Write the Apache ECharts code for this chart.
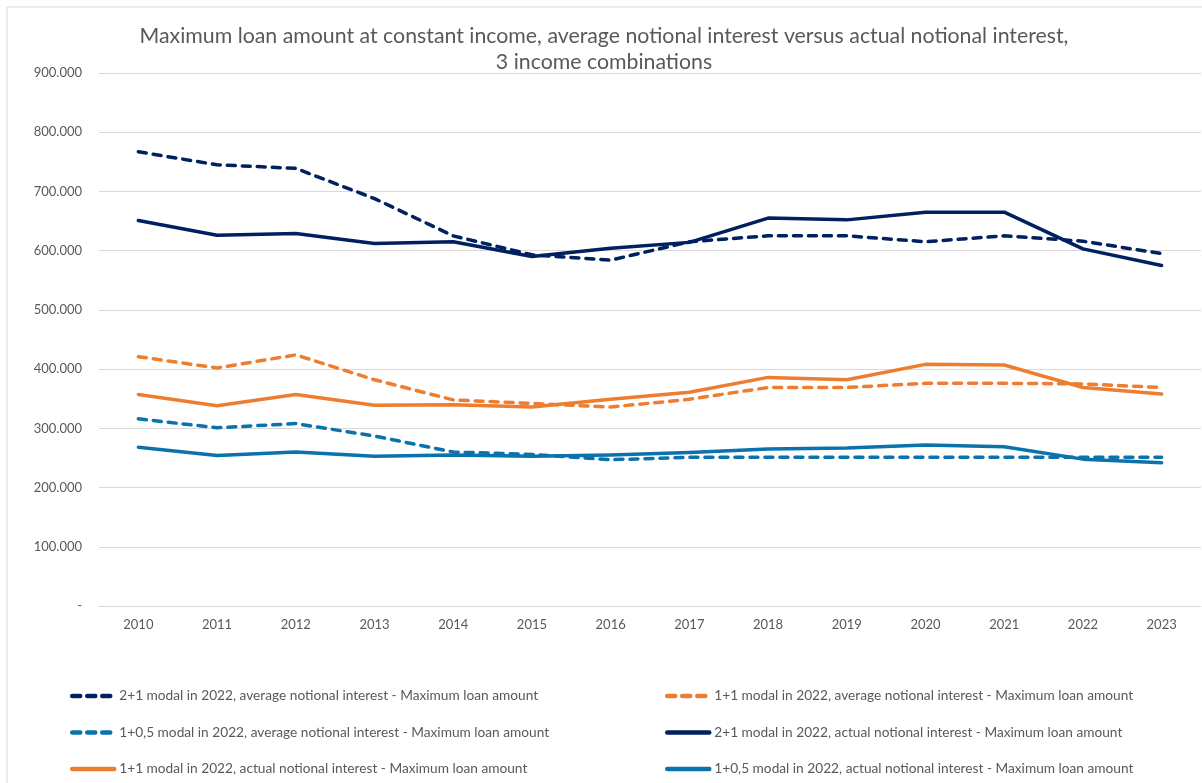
<!DOCTYPE html>
<html>
<head>
<meta charset="utf-8">
<script src="https://cdn.jsdelivr.net/npm/echarts@6/dist/echarts.min.js"></script>
<style>
html,body{margin:0;padding:0;background:#fff;}
#chart{width:1202px;height:783px;}
</style>
</head>
<body>
<div id="chart"></div>
<script>
const years = ['2010','2011','2012','2013','2014','2015','2016','2017','2018','2019','2020','2021','2022','2023'];
const yTicks = [0,100000,200000,300000,400000,500000,600000,700000,800000,900000];

const avg21 = [767000,745000,739000,688000,625000,593000,584000,615000,625000,625000,615000,625000,616000,595000];
const avg11 = [421000,402000,424000,382000,348000,342000,336000,349000,369000,369000,376000,376000,375000,369000];
const avg105 = [316000,301000,308000,287000,260000,256000,247000,251000,251000,251000,251000,251000,251000,251000];
const act21 = [651000,626000,629000,612000,615000,590000,604000,614000,655000,652000,665000,665000,603000,575000];
const act11 = [357000,338000,357000,339000,340000,336000,349000,361000,386000,382000,408000,407000,369000,358000];
const act105 = [268000,254000,260000,253000,255000,253000,255000,259000,265000,267000,272000,269000,248000,242000];

const names = [
  '2+1 modal in 2022, average notional interest - Maximum loan amount',
  '1+1 modal in 2022, average notional interest - Maximum loan amount',
  '1+0,5 modal in 2022, average notional interest - Maximum loan amount',
  '2+1 modal in 2022, actual notional interest - Maximum loan amount',
  '1+1 modal in 2022, actual notional interest - Maximum loan amount',
  '1+0,5 modal in 2022, actual notional interest - Maximum loan amount'
];

const NAVY = '#002060', ORANGE = '#ED7D31', BLUE = '#0A72AC';
const FONT = "Lato, 'Liberation Sans', sans-serif";

function mk(name, data, color, dashed) {
  return {
    name: name, type: 'line', data: data, symbol: 'none', smooth: false,
    lineStyle: { color: color, width: 3.5, type: dashed ? [8, 7] : 'solid', cap: 'round', join: 'round' },
    itemStyle: { color: color },
    emphasis: { disabled: true }
  };
}

function legend(items, left) {
  return {
    data: items, left: left, top: 684, width: 560, height: 130,
    orient: 'vertical', itemWidth: 42, itemHeight: 14, itemGap: 22.5,
    textStyle: { fontFamily: FONT, fontSize: 13.7, color: '#595959' }, selectedMode: false,
    itemStyle: { opacity: 0 },
    lineStyle: { width: 4.5 }
  };
}

const chart = echarts.init(document.getElementById('chart'));
chart.setOption({
  animation: false,
  backgroundColor: '#fff',
  textStyle: { fontFamily: FONT },
  graphic: [{
    type: 'rect', shape: { x: 7, y: 7, width: 1300, height: 900 },
    style: { fill: 'none', stroke: '#d9d9d9', lineWidth: 1 }, silent: true, z: -10
  }],
  title: {
    text: 'Maximum loan amount at constant income, average notional interest versus actual notional interest,\n3 income combinations',
    left: 599, textAlign: 'center', top: 18,
    textStyle: { fontFamily: FONT, fontSize: 21.3, fontWeight: 'normal', color: '#595959', lineHeight: 26 }
  },
  legend: [
    legend([names[0], names[2], names[4]], 65),
    legend([names[1], names[3], names[5]], 660)
  ],
  grid: { left: 99, right: 1, top: 73, bottom: 177, containLabel: false },
  xAxis: {
    type: 'category', data: years, boundaryGap: true,
    axisLine: { show: true, lineStyle: { color: '#d9d9d9', width: 1 } },
    axisTick: { show: false },
    axisLabel: { color: '#595959', fontSize: 13, margin: 12, fontFamily: FONT }
  },
  yAxis: {
    type: 'value', min: yTicks[0], max: yTicks[yTicks.length - 1], interval: 100000,
    axisLine: { show: false }, axisTick: { show: false },
    splitLine: { lineStyle: { color: '#d9d9d9', width: 1 } },
    axisLabel: {
      color: '#595959', fontSize: 13, margin: 17, fontFamily: FONT,
      formatter: function (v) { return v === 0 ? '-' : (v / 1000).toFixed(0) + '.000'; }
    }
  },
  series: [
    mk(names[0], avg21, NAVY, true),
    mk(names[1], avg11, ORANGE, true),
    mk(names[2], avg105, BLUE, true),
    mk(names[3], act21, NAVY, false),
    mk(names[4], act11, ORANGE, false),
    mk(names[5], act105, BLUE, false)
  ]
});
</script>
</body>
</html>
